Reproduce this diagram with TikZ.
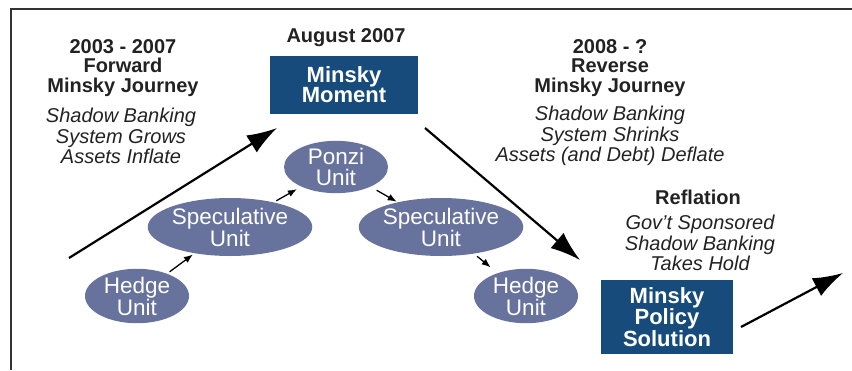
\documentclass[tikz,border=0pt]{standalone}
\usepackage{fontspec}
\setmainfont{Liberation Sans}
\usetikzlibrary{shapes.geometric,arrows.meta}

\definecolor{boxblue}{HTML}{174B7B}
\definecolor{unitblue}{HTML}{67739C}
\definecolor{inkgray}{HTML}{222222}

\begin{document}
\begin{tikzpicture}[x=1pt,y=-1pt,color=inkgray]

                \tikzset{unit/.style = {shape=ellipse,fill=unitblue,text=white,inner sep=0pt,align=center,
                                        font=\fontsize{22.5}{20.5}\selectfont}}
                \tikzset{minsky/.style = {shape=rectangle,fill=boxblue,text=white,inner sep=0pt,align=center,
                                          font=\bfseries\fontsize{22}{20}\selectfont}}
                \tikzset{head/.style = {align=center,font=\bfseries\fontsize{20}{19.5}\selectfont}}
                \tikzset{note/.style = {align=center,font=\itshape\fontsize{20}{20.5}\selectfont}}
                \tikzset{step edge/.style = {-{Latex[length=9pt,width=7pt]},line width=1.3pt,black}}
                \tikzset{journey/.style = {-{Latex[length=30pt,width=20pt]},line width=2.2pt,black}}

                \useasboundingbox (0,0) rectangle (852,370);
                \draw[line width=1.5pt,black!80] (11,370) -- (11,9) -- (852,9);

                % headings and notes
                \node[head] (fwd) at (123,68) {2003 - 2007\\Forward\\Minsky Journey};
                \node[note] (fwdnote) at (121,136) {Shadow Banking\\System Grows\\Assets Inflate};
                \node[head] (aug) at (346,38) {August 2007};
                \node[head] (rev) at (610,68) {2008 - ?\\Reverse\\Minsky Journey};
                \node[note] (revnote) at (610,136) {Shadow Banking\\System Shrinks\\Assets (and Debt) Deflate};
                \node[head] (refl) at (698,197) {Reflation};
                \node[note] (reflnote) at (700,243) {Gov’t Sponsored\\Shadow Banking\\Takes Hold};

                % boxes
                \node[minsky,minimum width=148pt,minimum height=58pt] (moment) at (344,85) {Minsky\\Moment};
                \node[minsky,minimum width=132pt,minimum height=74pt] (policy) at (667,317) {Minsky\\Policy\\Solution};

                % units
                \node[unit,minimum width=104pt,minimum height=52pt] (hedgeL) at (137,296) {Hedge\\Unit};
                \node[unit,minimum width=152pt,minimum height=58pt] (specL) at (230,227) {Speculative\\Unit};
                \node[unit,minimum width=104pt,minimum height=51pt] (ponzi) at (336,167) {Ponzi\\Unit};
                \node[unit,minimum width=150pt,minimum height=58pt] (specR) at (441,227) {Speculative\\Unit};
                \node[unit,minimum width=104pt,minimum height=52pt] (hedgeR) at (526,296) {Hedge\\Unit};

                \draw[step edge,shorten <=3pt,shorten >=2pt] (hedgeL) -- (specL);
                \draw[step edge,shorten <=3pt,shorten >=5pt] (specL) -- (ponzi);
                \draw[step edge,shorten <=7pt,shorten >=1pt] (ponzi) -- (specR);
                \draw[step edge,shorten <=4pt,shorten >=9pt] (specR) -- (hedgeR);

                % journeys
                \coordinate (fwdS) at (69,258);
                \coordinate (fwdE) at (277,128);
                \coordinate (revS) at (425,128);
                \coordinate (revE) at (580,260);
                \coordinate (reflS) at (741,327);
                \coordinate (reflE) at (843,273);
                \draw[journey] (fwdS) -- (fwdE);
                \draw[journey] (revS) -- (revE);
                \draw[journey] (reflS) -- (reflE);
            \end{tikzpicture}
\end{document}
